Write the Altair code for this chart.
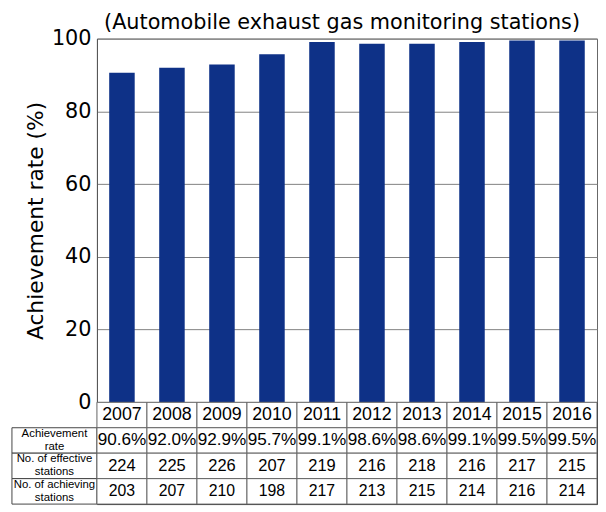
import altair as alt
import pandas as pd

# ---- data ----
years = [2007, 2008, 2009, 2010, 2011, 2012, 2013, 2014, 2015, 2016]
rates = [90.6, 92.0, 92.9, 95.7, 99.1, 98.6, 98.6, 99.1, 99.5, 99.5]
effective = [224, 225, 226, 207, 219, 216, 218, 216, 217, 215]
achieving = [203, 207, 210, 198, 217, 213, 215, 214, 216, 214]

row_keys = ["year", "rate", "effective", "achieving"]
row_labels = ["", "Achievement\nrate", "No. of effective\nstations", "No. of achieving\nstations"]
y_ticks = [0, 20, 40, 60, 80, 100]
title_text = "(Automobile exhaust gas monitoring stations)"
y_title = "Achievement rate (%)"

year_str = [str(y) for y in years]
bars_df = pd.DataFrame({"year": year_str, "rate": rates})

cells = []
for i, ys in enumerate(year_str):
    cells.append({"year": ys, "row": "year", "text": ys})
    cells.append({"year": ys, "row": "rate", "text": f"{rates[i]:.1f}%"})
    cells.append({"year": ys, "row": "effective", "text": str(effective[i])})
    cells.append({"year": ys, "row": "achieving", "text": str(achieving[i])})
table_df = pd.DataFrame(cells)
label_df = pd.DataFrame({"row": row_keys[1:], "text": row_labels[1:]})

PLOT_W = 506
LABEL_W = 86
PLOT_H = 368
TABLE_H = 103
BAR_COLOR = "#0e3187"

# ---- bar chart ----
bars = alt.Chart(bars_df).mark_bar(color=BAR_COLOR).encode(
    x=alt.X("year:O", scale=alt.Scale(paddingInner=0.49, paddingOuter=0.245), axis=None),
    y=alt.Y(
        "rate:Q",
        scale=alt.Scale(domain=[0, 100], nice=False),
        axis=alt.Axis(
            values=y_ticks, title=y_title, grid=True, gridColor="#808080",
            domainColor="#555555", ticks=False, labelFont="DejaVu Sans",
            labelFontSize=21, labelColor="black", labelPadding=6, labelFlush=False,
            titleFont="DejaVu Sans", titleFontSize=22, titleFontWeight="normal",
            titleColor="black", titlePadding=4,
        ),
    ),
).properties(
    width=PLOT_W, height=PLOT_H,
    title=alt.Title(title_text, font="DejaVu Sans", fontSize=21, fontWeight="normal",
                    color="black", offset=-5, frame="group", anchor="middle", dx=-5),
    view=alt.ViewBackground(stroke="#666666", strokeWidth=1),
)

# ---- placeholder (area under the y axis) ----
blank = alt.Chart(pd.DataFrame({"v": [0]})).mark_point(opacity=0).encode(
    x=alt.value(0), y=alt.value(0)
).properties(width=LABEL_W, height=PLOT_H)

# ---- row labels column ----
y_rows = alt.Y("row:N", sort=row_keys,
               scale=alt.Scale(domain=row_keys, paddingInner=0, paddingOuter=0), axis=None)
label_rect = alt.Chart(label_df).mark_rect(fill="white", stroke="#444444", strokeWidth=1).encode(y=y_rows)
label_text = alt.Chart(label_df).mark_text(
    lineBreak="\n", font="Liberation Sans", fontSize=11.5, lineHeight=13, dy=-6.5, color="black"
).encode(y=y_rows, text="text:N")
labels = alt.layer(label_rect, label_text).properties(width=LABEL_W, height=TABLE_H)

# ---- data table ----
x_tab = alt.X("year:O", scale=alt.Scale(paddingInner=0, paddingOuter=0), axis=None)
tab_rect = alt.Chart(table_df).mark_rect(fill="white", stroke="#666666", strokeWidth=1).encode(
    x=x_tab, y=y_rows)
tab_text = alt.Chart(table_df).mark_text(font="Liberation Sans", color="black").encode(
    x=x_tab, y=y_rows, text="text:N",
    size=alt.Size("row:N", scale=alt.Scale(domain=row_keys, range=[18, 16, 18.5, 18.5]), legend=None),
)
table = alt.layer(tab_rect, tab_text).properties(
    width=PLOT_W, height=TABLE_H, view=alt.ViewBackground(stroke="#333333", strokeWidth=1)
)

chart = alt.concat(blank, bars, labels, table, columns=2, spacing=0, bounds="flush").properties(
    padding=0
).configure_view(stroke="transparent")

chart.save("out.html", embed_options={"renderer": "svg", "actions": False})
